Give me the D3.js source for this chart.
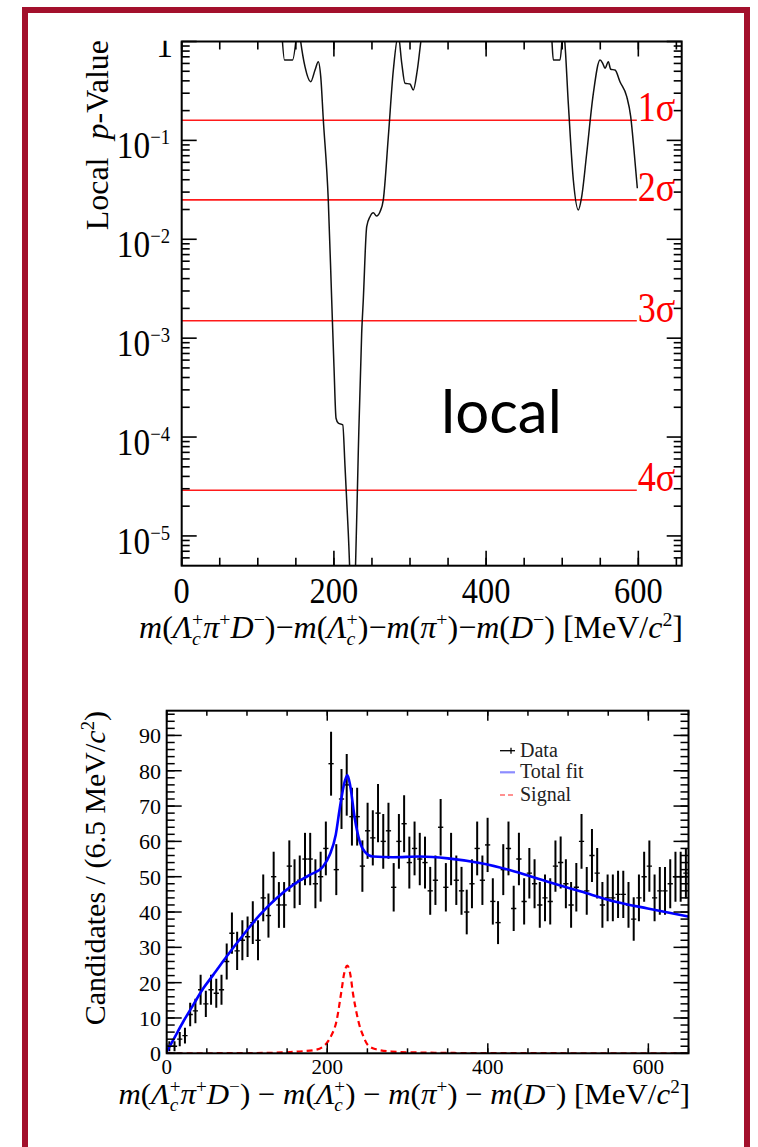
<!DOCTYPE html>
<html>
<head>
<meta charset="utf-8">
<script src="https://cdn.jsdelivr.net/npm/d3@7"></script>
<style>
  body { margin: 0; background: #fff; }
  svg { display: block; }
</style>
</head>
<body>
<svg id="chart" width="758" height="1147"></svg>
<script>
// ---- top panel: local p-value scan ----
const pvMass = [131.8, 135.1, 145.6, 150.9, 152.8, 155.2, 162.0, 169.5, 175.2, 179.5, 182.7, 186.1,
  192.6, 197.1, 200.1, 202.8, 205.8, 211.6, 214.6, 218.9, 224.4, 228.4, 232.1, 236.5, 238.6, 243.1,
  247.4, 251.8, 256.0, 260.6, 264.9, 271.5, 278.1, 284.6, 289.1, 293.4, 300.0, 304.3, 309.6, 315.4,
  326.3, 477.4, 485.9, 488.3, 497.1, 500.4, 501.3, 502.6, 508.0, 514.6, 521.2, 525.6, 532.2, 540.9,
  549.7, 553.2, 556.2, 560.6, 563.7, 569.4, 575.9, 584.8, 590.0, 594.3, 598.7];
const pvLocal = [1.16, 0.650, 0.650, 1.16, 1.65, 1.16, 0.556, 0.392, 0.515, 0.625, 0.441, 0.161,
  0.0250, 2.43e-3, 5.15e-4, 1.55e-4, 1.38e-4, 1.33e-4, 5.02e-5, 1.07e-5, 1.42e-6, 4.90e-6, 7.41e-5,
  1.13e-3, 2.43e-3, 0.0134, 0.0169, 0.0185, 0.0172, 0.0190, 0.0250, 0.109, 0.515, 1.16, 0.606, 0.378,
  0.372, 0.323, 0.515, 1.16, 2.08, 2.08, 1.16, 0.650, 0.650, 1.16, 1.31, 1.16, 0.237, 0.0398, 0.0198,
  0.0270, 0.0741, 0.299, 0.650, 0.602, 0.536, 0.625, 0.524, 0.515, 0.392, 0.277, 0.174, 0.080, 0.0328];
const sigmaNames = ["1", "2", "3", "4"];
const sigmaP = [0.16, 0.025, 0.0015, 2.9e-5];
const pvMassTicks = [0, 200, 400, 600];
const pvDecades = [0, -1, -2, -3, -4, -5];

// ---- bottom panel: mass spectrum ----
const binWidth = 6.5;
const counts = [2, 2, 4, 5, 11, 12, 18, 14, 18, 17, 18, 26, 34, 29, 32, 33, 37, 32, 44, 39,
  50, 42, 42, 53, 48, 49, 55, 55, 48, 50, 58, 82, 52, 72, 76, 67, 67, 53, 63, 61,
  68, 60, 63, 47, 60, 65, 54, 58, 55, 54, 46, 49, 64, 47, 55, 49, 46, 40, 48, 58,
  49, 59, 43, 37, 52, 58, 41, 55, 43, 51, 48, 42, 44, 43, 53, 54, 48, 42, 47, 60,
  46, 56, 51, 42, 44, 44, 45, 45, 42, 38, 44, 50, 53, 44, 46, 46, 48, 50, 50, 51];
const fitMass = [0, 8.2, 20.7, 33.1, 45.6, 58, 74.6, 95.3, 116, 136.8, 157.5, 178.2, 194.8, 203.1,
  210.6, 215.6, 221.8, 225.1, 228.8, 234.2, 240.4, 246.6, 257, 281.9, 315, 350.3, 391.8, 433.3,
  474.7, 516.2, 557.7, 599.2, 650];
const fitTotal = [0.5, 3.8, 9, 13.7, 18.4, 22.2, 27.4, 33.5, 39.2, 43.9, 47.7, 50.5, 52.9, 56.2,
  61.9, 69.4, 77, 78.8, 75.5, 66.6, 60, 57.1, 55.7, 55.5, 55.7, 55.2, 53.8, 51.5,
  48.6, 45.8, 43, 41, 38.7];
const sigMass = [0, 100, 150, 170, 186, 199, 205, 211.4, 217.6, 221, 225, 229, 232, 236, 240, 245,
  250, 260, 280, 320, 400, 650];
const sigYield = [0, 0.05, 0.3, 0.6, 1.0, 2.8, 5, 9, 17.5, 22.5, 24.8, 22, 17, 12, 8, 4.8,
  2.5, 1.2, 0.5, 0.2, 0.05, 0];
const specMassTicks = [0, 200, 400, 600];
const specCountTicks = [0, 10, 20, 30, 40, 50, 60, 70, 80, 90];
const legendNames = ["Data", "Total fit", "Signal"];

const svg = d3.select("#chart");
const serif = "'Liberation Serif', 'Times New Roman', serif";

svg.append("rect").attr("width", 758).attr("height", 1147).attr("fill", "#fff");
svg.append("rect")
  .attr("x", 25).attr("y", 10).attr("width", 722).attr("height", 1160)
  .attr("fill", "none").attr("stroke", "#a3102c").attr("stroke-width", 6);

// text with italics, super/subscripts and stacked Λ_c^+ style scripts
function rich(g, x, y, parts, o) {
  const fs = o.size;
  const grp = g.append("g").attr("transform", `translate(${x},${y})${o.rotate ? ` rotate(${o.rotate})` : ""} scale(${o.sx || 1},1)`);
  const text = grp.append("text")
    .attr("font-family", o.family || serif)
    .attr("font-size", fs)
    .attr("fill", o.fill || "#000")
    .attr("text-anchor", o.anchor || "start");
  let cur = 0, pendDx = 0;
  const small = fs * (o.scriptScale || 0.62);
  const supShift = -fs * 0.38, subShift = fs * 0.22;
  parts.forEach(p => {
    if (typeof p === "string") p = { t: p };
    if (p.stack) {
      const a = text.append("tspan").text(p.stack[0]).attr("font-size", small)
        .attr("dy", supShift - cur).attr("dx", pendDx);
      const wa = a.node().getComputedTextLength();
      const b = text.append("tspan").text(p.stack[1]).attr("font-size", small)
        .attr("font-style", "italic").attr("dx", -wa).attr("dy", subShift - supShift);
      const wb = b.node().getComputedTextLength();
      cur = subShift;
      pendDx = Math.max(0, wa - wb);
      return;
    }
    const shift = p.sup ? supShift : p.sub ? subShift : 0;
    const ts = text.append("tspan").text(p.t).attr("dy", shift - cur);
    if (pendDx || p.dx) ts.attr("dx", pendDx + (p.dx || 0));
    pendDx = 0;
    cur = shift;
    if (p.sup || p.sub) ts.attr("font-size", small);
    if (p.it) ts.attr("font-style", "italic");
  });
  return grp;
}

function ticks(g, scale, side, values, len, box) {
  values.forEach(v => {
    const p = scale(v);
    if (side === "bottom") g.append("line").attr("x1", p).attr("x2", p).attr("y1", box.b).attr("y2", box.b - len);
    if (side === "top") g.append("line").attr("x1", p).attr("x2", p).attr("y1", box.t).attr("y2", box.t + len);
    if (side === "left") g.append("line").attr("y1", p).attr("y2", p).attr("x1", box.l).attr("x2", box.l + len);
    if (side === "right") g.append("line").attr("y1", p).attr("y2", p).attr("x1", box.r).attr("x2", box.r - len);
  });
}

const massTitle = (spaced) => {
  const m = spaced ? " \u2212 " : "\u2212";
  return [{ t: "m", it: 1 }, "(", { t: "\u039B", it: 1 }, { stack: ["+", "c"] }, { t: "\u03C0", it: 1 }, { t: "+", sup: 1 },
    { t: "D", it: 1 }, { t: "\u2212", sup: 1 }, ")" + m, { t: "m", it: 1 }, "(", { t: "\u039B", it: 1 }, { stack: ["+", "c"] },
    ")" + m, { t: "m", it: 1 }, "(", { t: "\u03C0", it: 1 }, { t: "+", sup: 1 }, ")" + m, { t: "m", it: 1 }, "(",
    { t: "D", it: 1 }, { t: "\u2212", sup: 1 }, ") [MeV/", { t: "c", it: 1 }, { t: "2", sup: 1 }, "]"];
};

// ================= TOP PANEL =================
const tp = { l: 181.7, r: 681.7, t: 41.5, b: 565.7 };
const x1 = d3.scaleLinear().domain([0, 657]).range([tp.l, tp.r]);
const y1 = d3.scaleLog().domain([5e-6, 1]).range([tp.b, tp.t]);
const topG = svg.append("g");

const defs = svg.append("defs");
defs.append("clipPath").attr("id", "clipTop").append("rect")
  .attr("x", tp.l).attr("y", tp.t).attr("width", tp.r - tp.l).attr("height", tp.b - tp.t);
defs.append("clipPath").attr("id", "clipOne").append("rect")
  .attr("x", -60).attr("y", -16).attr("width", 100).attr("height", 40);

// sigma lines
const sigmaLineEnd = 598;
sigmaP.forEach((p, i) => {
  topG.append("line")
    .attr("x1", x1(0)).attr("x2", x1(sigmaLineEnd))
    .attr("y1", y1(p)).attr("y2", y1(p))
    .attr("stroke", "#ff1a1a").attr("stroke-width", 1.6);
  rich(topG, x1(sigmaLineEnd) + 1, y1(p) + 1, [sigmaNames[i], "\u03C3"], { size: 42, sx: 0.86, fill: "#ff0000" });
});

// p-value curve
const pvLine = d3.line().x(d => x1(d[0])).y(d => y1(d[1])).curve(d3.curveMonotoneX);
topG.append("path")
  .attr("d", pvLine(d3.zip(pvMass, pvLocal)))
  .attr("clip-path", "url(#clipTop)")
  .attr("fill", "none").attr("stroke", "#111").attr("stroke-width", 1.5);

// frame and ticks
const tTicks = topG.append("g").attr("stroke", "#000").attr("stroke-width", 1.6);
const minorMass = d3.range(0, 651, 50);
ticks(tTicks, x1, "bottom", minorMass, 8, tp);
ticks(tTicks, x1, "top", minorMass, 8, tp);
ticks(tTicks, x1, "bottom", pvMassTicks, 15, tp);
ticks(tTicks, x1, "top", pvMassTicks, 15, tp);
const logMinor = [];
d3.range(-6, 0).forEach(d => d3.range(2, 10).forEach(m => {
  const v = m * Math.pow(10, d);
  if (v >= 5e-6 && v <= 1) logMinor.push(v);
}));
const logMajor = pvDecades.map(d => Math.pow(10, d));
ticks(tTicks, y1, "left", logMinor, 8, tp);
ticks(tTicks, y1, "right", logMinor, 8, tp);
ticks(tTicks, y1, "left", logMajor, 15, tp);
ticks(tTicks, y1, "right", logMajor, 15, tp);
topG.append("rect").attr("x", tp.l).attr("y", tp.t).attr("width", tp.r - tp.l).attr("height", tp.b - tp.t)
  .attr("fill", "none").attr("stroke", "#000").attr("stroke-width", 2);

// tick labels
pvMassTicks.forEach(v => {
  rich(topG, x1(v), 603, [String(v)], { size: 36, sx: 0.9, anchor: "middle" });
});
pvDecades.forEach(d => {
  const yy = y1(Math.pow(10, d)) + 18;
  if (d === 0) {
    rich(topG, 173, 56.7, ["1"], { size: 37, sx: 0.9, anchor: "end" }).select("text").attr("clip-path", "url(#clipOne)");
  } else {
    rich(topG, 170, yy, ["10", { t: "\u2212" + (-d), sup: 1 }], { size: 37, sx: 0.9, anchor: "end", scriptScale: 0.56 });
  }
});

rich(topG, 108, 40, ["Local", { t: "p", it: 1, dx: 18 }, "-Value"], { size: 32, rotate: -90, anchor: "end" });
rich(topG, 683, 638, massTitle(false), { size: 32, anchor: "end" });

topG.append("text").attr("x", 441).attr("y", 433)
  .attr("font-family", "Lato, 'Open Sans', sans-serif").attr("font-size", 60).text("local");

// ================= BOTTOM PANEL =================
const bp = { l: 166.7, r: 688.5, t: 710.7, b: 1053.3 };
const x2 = d3.scaleLinear().domain([0, 650]).range([bp.l, bp.r]);
const y2 = d3.scaleLinear().domain([0, 97]).range([bp.b, bp.t]);
const botG = svg.append("g");
defs.append("clipPath").attr("id", "clipBot").append("rect")
  .attr("x", bp.l).attr("y", bp.t).attr("width", bp.r - bp.l).attr("height", bp.b - bp.t);

const plotArea = botG.append("g").attr("clip-path", "url(#clipBot)");

const curveLine = d3.line().x(d => x2(d[0])).y(d => y2(d[1])).curve(d3.curveMonotoneX);
plotArea.append("path")
  .attr("d", curveLine(d3.zip(sigMass, sigYield)))
  .attr("fill", "none").attr("stroke", "#ff0000").attr("stroke-width", 2.2).attr("stroke-dasharray", "6,4");

// data points
const pts = plotArea.append("g").attr("stroke", "#000").attr("stroke-width", 2);
counts.forEach((n, i) => {
  const c = (i + 0.5) * binWidth;
  const e = Math.sqrt(n);
  pts.append("line").attr("x1", x2(c)).attr("x2", x2(c)).attr("y1", y2(n - e)).attr("y2", y2(n + e));
  pts.append("line").attr("x1", x2(c - binWidth / 2)).attr("x2", x2(c + binWidth / 2)).attr("y1", y2(n)).attr("y2", y2(n))
    .attr("stroke-width", 1.4);
});

plotArea.append("path")
  .attr("d", curveLine(d3.zip(fitMass, fitTotal)))
  .attr("fill", "none").attr("stroke", "#0000ff").attr("stroke-width", 2.6);

const bTicks = botG.append("g").attr("stroke", "#000").attr("stroke-width", 1.5);
ticks(bTicks, x2, "bottom", minorMass, 5, bp);
ticks(bTicks, x2, "top", minorMass, 5, bp);
ticks(bTicks, x2, "bottom", specMassTicks, 10, bp);
ticks(bTicks, x2, "top", specMassTicks, 10, bp);
const minorCount = d3.range(0, 97, 2);
ticks(bTicks, y2, "left", minorCount, 8, bp);
ticks(bTicks, y2, "right", minorCount, 8, bp);
ticks(bTicks, y2, "left", specCountTicks, 15, bp);
ticks(bTicks, y2, "right", specCountTicks, 15, bp);
botG.append("rect").attr("x", bp.l).attr("y", bp.t).attr("width", bp.r - bp.l).attr("height", bp.b - bp.t)
  .attr("fill", "none").attr("stroke", "#000").attr("stroke-width", 2);

specMassTicks.forEach(v => rich(botG, x2(v), 1074, [String(v)], { size: 21, anchor: "middle" }));
specCountTicks.forEach(v => rich(botG, 161, y2(v) + 8, [String(v)], { size: 22, anchor: "end" }));

rich(botG, 105, 711, ["Candidates / (6.5 MeV/", { t: "c", it: 1 }, { t: "2", sup: 1 }, ")"], { size: 30, rotate: -90, anchor: "end" });
rich(botG, 690, 1104, massTitle(true), { size: 30, anchor: "end", sx: 1.03 });

// legend
const lg = botG.append("g");
const legY = [750.7, 772.3, 795];
lg.append("line").attr("x1", 500).attr("x2", 515).attr("y1", legY[0]).attr("y2", legY[0]).attr("stroke", "#000").attr("stroke-width", 1.3);
lg.append("line").attr("x1", 511).attr("x2", 511).attr("y1", legY[0] - 3).attr("y2", legY[0] + 3).attr("stroke", "#000").attr("stroke-width", 1.3);
lg.append("line").attr("x1", 500).attr("x2", 515).attr("y1", legY[1]).attr("y2", legY[1]).attr("stroke", "#8c8cff").attr("stroke-width", 2.2);
lg.append("line").attr("x1", 500).attr("x2", 515).attr("y1", legY[2]).attr("y2", legY[2]).attr("stroke", "#ff9090").attr("stroke-width", 2.2).attr("stroke-dasharray", "5,3");
legendNames.forEach((name, i) => {
  lg.append("text").attr("x", 520).attr("y", legY[i] + 6)
    .attr("font-family", serif).attr("font-size", 20).attr("fill", "#222").text(name);
});
</script>
</body>
</html>
